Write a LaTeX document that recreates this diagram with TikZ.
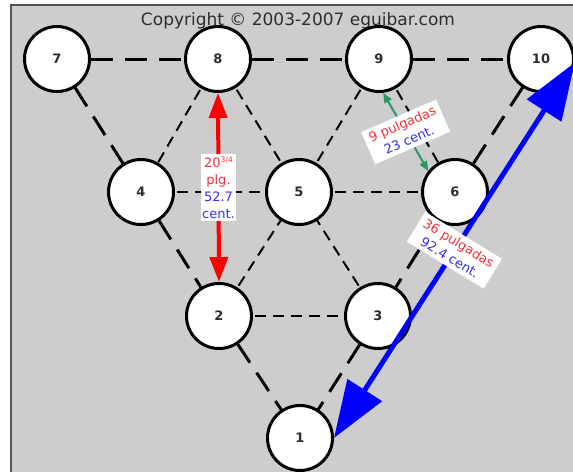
\documentclass[tikz,border=0pt]{standalone}
\usepackage{fontspec}
\setmainfont{DejaVu Sans}
\usetikzlibrary{arrows.meta}

\definecolor{panel}{RGB}{205,205,205}
\definecolor{rim}{RGB}{85,85,85}
\definecolor{ink}{RGB}{45,45,45}
\definecolor{labred}{RGB}{240,50,60}
\definecolor{labblue}{RGB}{50,50,240}
\definecolor{measgreen}{RGB}{46,150,100}

\pgfdeclarelayer{bg}
\pgfdeclarelayer{edges}
\pgfsetlayers{bg,edges,main}

\begin{document}
\begin{tikzpicture}[x=1pt,y=-1pt,
  pin/.style={circle, draw=black, line width=3pt, fill=white, minimum size=65pt,
    inner sep=0pt, font=\fontsize{13}{13}\selectfont\bfseries, text=ink},
  rail/.style={line width=3pt, dash pattern=on 22pt off 12pt},
  web/.style={line width=2pt, dash pattern=on 11pt off 7pt},
  tag/.style={fill=white, align=center, inner xsep=5pt, inner ysep=4pt,
    font=\fontsize{13}{17}\selectfont},
  redmeas/.style={draw=red, line width=4pt,
    {Triangle[length=25pt,width=18pt]}-{Triangle[length=25pt,width=18pt]}},
  greenmeas/.style={draw=measgreen, line width=2pt,
    {Triangle[length=10pt,width=8pt]}-{Triangle[length=10pt,width=8pt]}},
  bluemeas/.style={draw=blue, line width=5pt,
    {Triangle[length=57pt,width=40pt]}-{Triangle[length=57pt,width=40pt]}},
]
\useasboundingbox (0,0) rectangle (573,472);

% panel with its dark rim on the left and top
\begin{pgfonlayer}{bg}
  \fill[white] (0,0) rectangle (573,472);
  \fill[panel] (11,5) rectangle (573,472);
  \draw[rim, line width=2.5pt] (11,472) -- (11,5) -- (573,5);
\end{pgfonlayer}

\node[font=\fontsize{17}{17}\selectfont, text=ink, anchor=base] (title) at (298,25)
  {Copyright © 2003-2007 eguibar.com};

% pins
\node[pin] (n7)  at (57,59)  {7};
\node[pin] (n8)  at (218,59) {8};
\node[pin] (n9)  at (379,59) {9};
\node[pin] (n10) at (541,59) {10};
\node[pin] (n4)  at (141,192) {4};
\node[pin] (n5)  at (299,192) {5};
\node[pin] (n6)  at (455,192) {6};
\node[pin] (n2)  at (219,316) {2};
\node[pin] (n3)  at (378,316) {3};
\node[pin] (n1)  at (300,438) {1};

% outer triangle and inner web, behind the pins
\begin{pgfonlayer}{edges}
  \foreach \a/\b in {n7/n8, n8/n9, n9/n10, n7/n4, n4/n2, n2/n1, n10/n6, n6/n3, n3/n1}
    \draw[rail] (\a.center) -- (\b.center);
  \foreach \a/\b in {n8/n4, n8/n5, n9/n5, n9/n6, n4/n5, n5/n6, n2/n5, n3/n5, n2/n3}
    \draw[web] (\a.center) -- (\b.center);
\end{pgfonlayer}

% measurements
\draw[redmeas] (n8.south) -- node[tag, inner xsep=1pt, inner ysep=3pt] (rtag)
  {\textcolor{labred}{20\raisebox{.7ex}{\fontsize{7.5}{7.5}\selectfont 3/4}}\\
   \textcolor{labred}{plg.}\\
   \textcolor{labblue}{52.7}\\
   \textcolor{labblue}{cent.}} (n2.north);

\draw[greenmeas] (n9.-83) -- node[tag, rotate=23.5] (gtag)
  {\textcolor{labred}{9 pulgadas}\\\textcolor{labblue}{23 cent.}} (n6.142);

\draw[bluemeas] (n1.east) -- node[tag, rotate=-31.5] (btag)
  {\textcolor{labred}{36 pulgadas}\\\textcolor{labblue}{92.4 cent.}} (n10.-6);
\end{tikzpicture}
\end{document}
